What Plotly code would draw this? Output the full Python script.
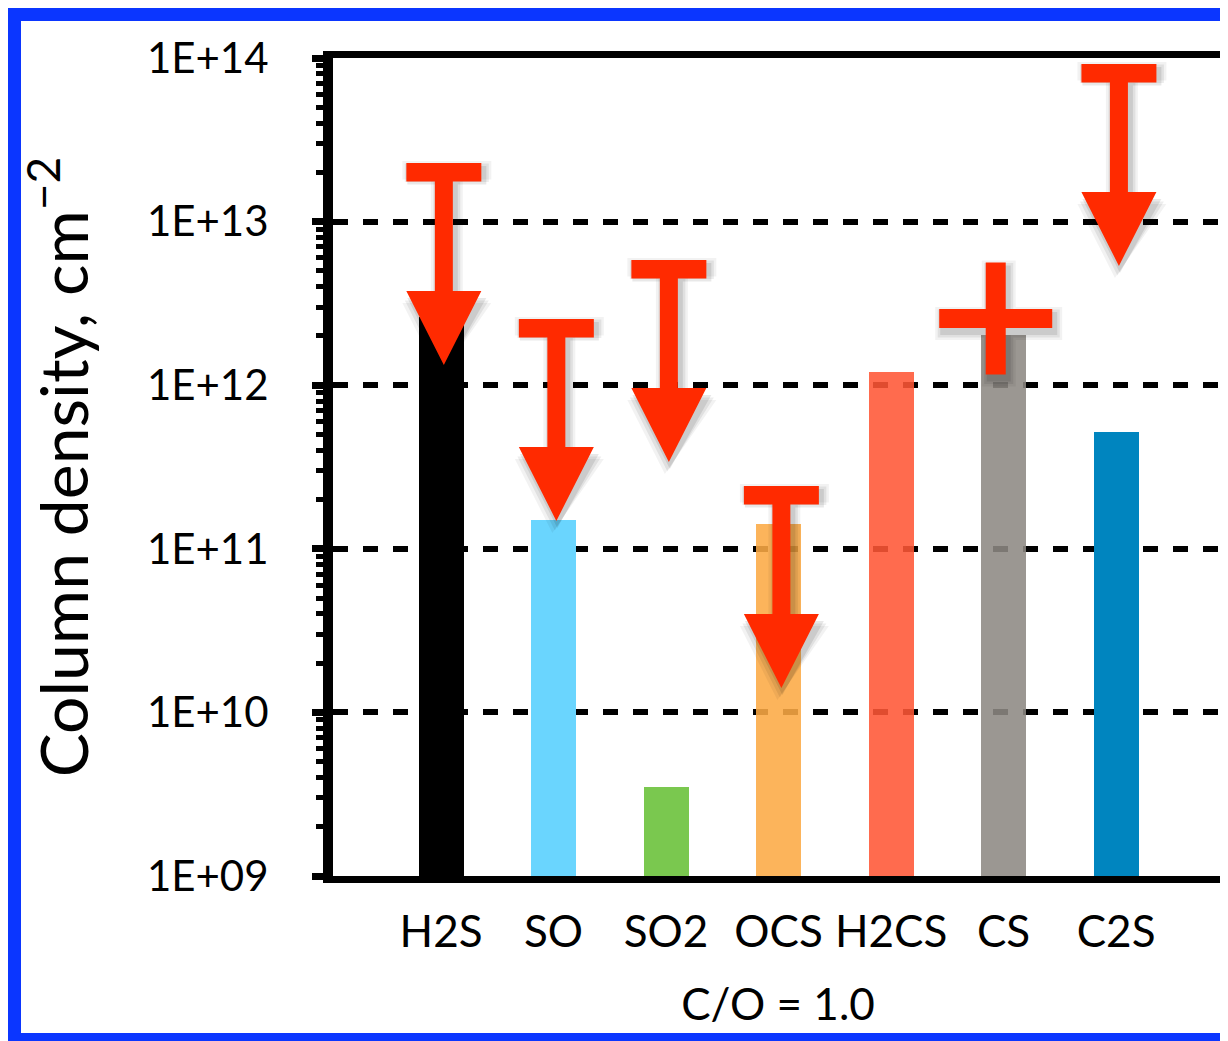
import math
import plotly.graph_objects as go

# ---------------- data ----------------
species = ["H2S", "SO", "SO2", "OCS", "H2CS", "CS", "C2S"]
column_density = [2.6e12, 1.5e11, 3.5e9, 1.42e11, 1.2e12, 2.03e12, 5.2e11]
bar_colors = ["#000000", "#6AD5FE", "#7AC84F", "#FCAA44", "#FF5635", "#8D8983", "#0085BF"]
bar_opacity = [1, 1, 1, 0.88, 0.88, 0.88, 1]

# upper limits (top of the red limit arrows)
limit_species = ["H2S", "SO", "SO2", "OCS", "C2S"]
limit_values = [2.28e13, 2.54e12, 5.82e12, 2.42e11, 9.2e13]

# detection with uncertainty (red cross)
cross_species = ["CS"]
cross_values = [2.56e12]

ytick_vals = [1e9, 1e10, 1e11, 1e12, 1e13, 1e14]
ytick_text = ["1E+09", "1E+10", "1E+11", "1E+12", "1E+13", "1E+14"]

# ---------------- layout geometry ----------------
W, H = 1220, 1033
L, R, T, B = 325, 5, 50, 165
PW, PH = W - L - R, H - T - B
XR = [-0.96, 6.95]
YR = [9, 14]
px_x = PW / (XR[1] - XR[0])     # pixels per category unit
px_y = PH / (YR[1] - YR[0])     # pixels per decade

RED = "#FF2A00"
xpos = list(range(len(species)))

fig = go.Figure()
fig.add_trace(go.Bar(
    x=xpos, y=column_density, width=0.4,
    marker=dict(color=bar_colors, opacity=bar_opacity, line=dict(width=0)),
    showlegend=False, hoverinfo="skip"))


def to_data(x_px_list, y_px_list, xc, ytop_log):
    xs = [xc + dx / px_x for dx in x_px_list]
    ys = [10 ** (ytop_log - dy / px_y) for dy in y_px_list]
    return xs, ys


# arrow outline in pixel offsets (dx from centre, dy down from cap top)
arrow_dx = [-37.5, 37.5, 37.5, 9, 9, 37.5, 0, -37.5, -9, -9, -37.5, -37.5]
arrow_dy = [0, 0, 18.5, 18.5, 128, 128, 202, 128, 128, 18.5, 18.5, 0]

# cross outline
cross_dx = [-10, 10, 10, 56.5, 56.5, 10, 10, -10, -10, -56.5, -56.5, -10, -10]
cross_dy = [-56, -56, -9.5, -9.5, 9.5, 9.5, 56, 56, 9.5, 9.5, -9.5, -9.5, -56]

shapes_list = []
for sp, v in zip(limit_species, limit_values):
    shapes_list.append((species.index(sp) + 0.025, math.log10(v), arrow_dx, arrow_dy))
for sp, v in zip(cross_species, cross_values):
    shapes_list.append((species.index(sp) - 0.07, math.log10(v), cross_dx, cross_dy))

# soft shadows
for (xc, yl, dxs, dys) in shapes_list:
    mid = (min(dys) + max(dys)) / 2
    for grow, op in [(7, 0.05), (4.5, 0.07), (2, 0.09)]:
        gx = [d + (grow if d > 0 else -grow) + 3 for d in dxs]
        gy = [d + (grow if d > mid else -grow) + 5 for d in dys]
        xs, ys = to_data(gx, gy, xc, yl)
        fig.add_trace(go.Scatter(x=xs, y=ys, mode="lines", fill="toself",
                                 fillcolor=f"rgba(0,0,0,{op})", line=dict(width=0),
                                 showlegend=False, hoverinfo="skip"))

for (xc, yl, dxs, dys) in shapes_list:
    xs, ys = to_data(dxs, dys, xc, yl)
    fig.add_trace(go.Scatter(x=xs, y=ys, mode="lines", fill="toself",
                             fillcolor=RED, line=dict(width=0, color=RED),
                             showlegend=False, hoverinfo="skip"))


def px2paper_x(p):
    return (p - L) / PW


def px2paper_y(p):
    return 1 - (p - T) / PH


# blue frame around the whole picture
fig.add_shape(type="rect", xref="paper", yref="paper",
              x0=px2paper_x(6.5), x1=px2paper_x(1221.5),
              y0=px2paper_y(1031.5), y1=px2paper_y(6.5),
              line=dict(color="#0B36FF", width=13), fillcolor="rgba(0,0,0,0)",
              layer="above")

FONT = "Lato, 'Open Sans', sans-serif"
fig.update_layout(
    width=W, height=H,
    margin=dict(l=L, r=R, t=T, b=B, autoexpand=False),
    paper_bgcolor="white", plot_bgcolor="white",
    font=dict(family=FONT, color="black", size=44),
    bargap=0,
    xaxis=dict(
        range=XR, tickmode="array", tickvals=xpos, ticktext=species,
        showline=True, linecolor="black", linewidth=7, mirror=True,
        ticks="", showgrid=False, zeroline=False,
        tickfont=dict(size=44, family=FONT), ticklabelstandoff=11,
        title=dict(text="C/O = 1.0", font=dict(size=44, family=FONT), standoff=37),
        automargin=False,
    ),
    yaxis=dict(
        type="log", range=YR, tickmode="array", tickvals=ytick_vals, ticktext=ytick_text,
        showline=True, linecolor="black", linewidth=10, mirror=False,
        ticks="outside", ticklen=11, tickwidth=7, tickcolor="black",
        minor=dict(ticks="outside", dtick="D1", ticklen=7, tickwidth=5,
                   tickcolor="black", showgrid=False),
        showgrid=True, gridcolor="black", gridwidth=6, griddash="15px,15px",
        zeroline=False,
        tickfont=dict(size=42, family=FONT), ticklabelstandoff=35,
        title=dict(text="Column density, cm<sup>−2</sup>",
                   font=dict(size=66, family=FONT), standoff=41),
        automargin=False,
    ),
)

fig.write_html("out.html", config={"displayModeBar": False})
